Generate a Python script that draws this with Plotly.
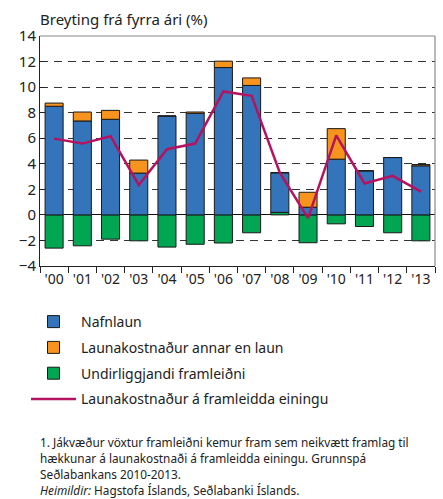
import plotly.graph_objects as go

years = ["'00", "'01", "'02", "'03", "'04", "'05", "'06", "'07", "'08", "'09", "'10", "'11", "'12", "'13"]
nafnlaun = [8.5, 7.35, 7.48, 3.27, 7.74, 7.95, 11.53, 10.13, 3.1, 0.6, 4.36, 3.45, 4.49, 3.84]
annar = [0.25, 0.7, 0.7, 1.02, 0.0, 0.1, 0.5, 0.59, 0.0, 1.17, 2.39, 0.0, 0.0, 0.1]
framleidni = [-2.6, -2.42, -1.9, -2.03, -2.52, -2.3, -2.2, -1.4, 0.2, -2.18, -0.7, -0.91, -1.4, -2.03]
einingu = [5.97, 5.58, 6.16, 2.34, 5.14, 5.58, 9.66, 9.32, 3.3, -0.26, 6.23, 2.46, 3.06, 1.82]

names = ["Nafnlaun", "Launakostnaður annar en laun", "Undirliggjandi framleiðni",
         "Launakostnaður á framleidda einingu"]

BLUE = "#3474BA"
ORANGE = "#F7941D"
GREEN = "#00A651"
LINE = "#B5135F"
EDGE = "#1a1a1a"

fig = go.Figure()
fig.add_trace(go.Bar(x=years, y=framleidni, name=names[2], marker=dict(color=GREEN, line=dict(color=EDGE, width=1)),
                     legendrank=3, legendgroup="g3"))
fig.add_trace(go.Bar(x=years, y=nafnlaun, name=names[0], marker=dict(color=BLUE, line=dict(color=EDGE, width=1)),
                     legendrank=1, legendgroup="g1"))
fig.add_trace(go.Bar(x=years, y=annar, name=names[1], marker=dict(color=ORANGE, line=dict(color=EDGE, width=1)),
                     legendrank=2, legendgroup="g2"))
fig.add_trace(go.Scatter(x=years, y=einingu, name=names[3], mode="lines", line=dict(color=LINE, width=2.5),
                         legendrank=4, legendgroup="g4"))

FONT = "Noto Sans"
W, H = 443, 499
L, R, T, B = 40, 8, 36, 233
ph = H - T - B
pw = W - L - R


def py(y):
    return (H - B - y) / ph


def px(x):
    return (x - L) / pw


fig.update_layout(
    width=W, height=H,
    margin=dict(l=L, r=R, t=T, b=B),
    paper_bgcolor="white", plot_bgcolor="white",
    barmode="relative", bargap=0.36,
    font=dict(family=FONT, color="#222", size=14),
    showlegend=True,
    legend=dict(x=px(26), y=py(306), xanchor="left", yanchor="top", orientation="v",
                font=dict(size=14, family=FONT), tracegroupgap=4.6, itemwidth=45,
                bgcolor="rgba(0,0,0,0)"),
    xaxis=dict(type="category", tickson="boundaries", ticks="outside", ticklen=6, tickcolor="#222",
               showline=True, linecolor="#222", linewidth=1, showgrid=False,
               tickfont=dict(size=14, family=FONT), tickangle=0, fixedrange=True),
    yaxis=dict(range=[-4, 14], dtick=2, tick0=0, ticks="inside", ticklen=5, tickcolor="#222",
               showline=True, linecolor="#222", linewidth=1,
               showgrid=True, gridcolor="#333", gridwidth=1, griddash="8px,6px",
               zeroline=True, zerolinecolor="#111", zerolinewidth=1,
               tickfont=dict(size=15, family=FONT), fixedrange=True),
    shapes=[
        dict(type="line", xref="paper", yref="paper", x0=0, x1=1, y0=1, y1=1, line=dict(color="#888", width=1.2)),
        dict(type="line", xref="paper", yref="paper", x0=1, x1=1, y0=0, y1=1, line=dict(color="#888", width=1.2)),
    ],
)

ann = [
    dict(text="Breyting frá fyrra ári (%)", x=px(38), y=py(19), size=15),
    dict(text="1. Jákvæður vöxtur framleiðni kemur fram sem neikvætt framlag til", x=px(38), y=py(442), size=11.8),
    dict(text="hækkunar á launakostnaði á framleidda einingu. Grunnspá", x=px(38), y=py(458), size=11.8),
    dict(text="Seðlabankans 2010-2013.", x=px(38), y=py(474), size=11.8),
    dict(text="<i>Heimildir:</i> Hagstofa Íslands, Seðlabanki Íslands.", x=px(38), y=py(490), size=11.8),
]
for a in ann:
    fig.add_annotation(text=a["text"], x=a["x"], y=a["y"], xref="paper", yref="paper",
                       xanchor="left", yanchor="middle", showarrow=False,
                       font=dict(size=a["size"], family=FONT, color="#222"))

fig.write_html("out.html", config={"displayModeBar": False},
               post_script="document.body.style.margin='0';document.body.style.padding='0';")
